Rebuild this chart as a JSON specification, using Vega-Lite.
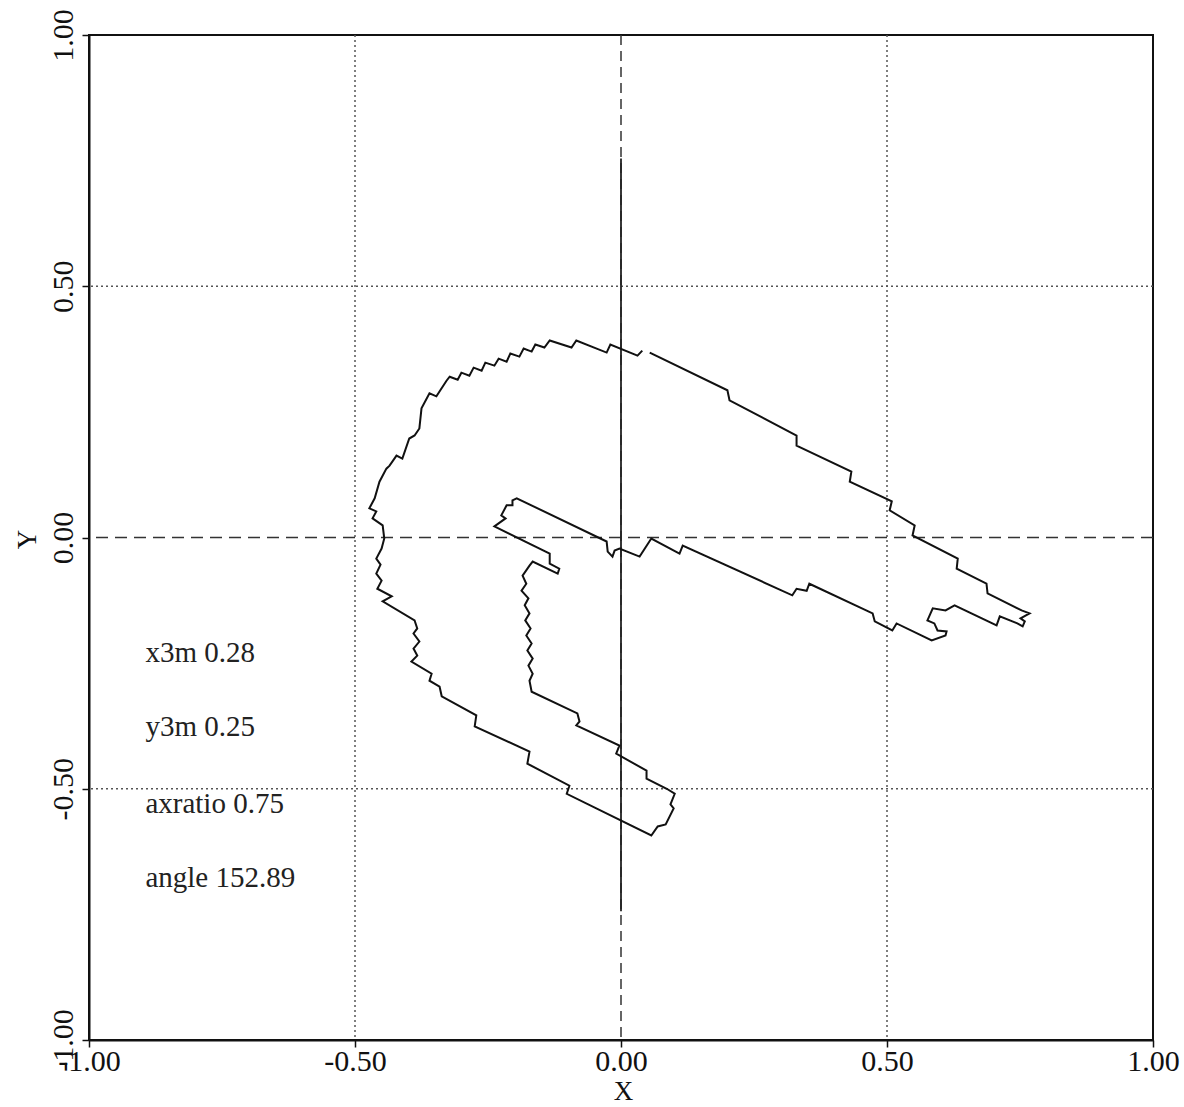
{
"$schema": "https://vega.github.io/schema/vega-lite/v6.json",
"autosize": {"type": "none"},
"padding": {"left": 89, "top": 35, "right": 31, "bottom": 67},
"width": 1064,
"height": 1005,
"background": "white",
"datasets": {
"curve": [
{"i":1,"x":0.054,"y":0.368},{"i":2,"x":0.200,"y":0.293},{"i":3,"x":0.204,"y":0.273},{"i":4,"x":0.330,"y":0.203},{"i":5,"x":0.330,"y":0.183},
{"i":6,"x":0.433,"y":0.131},{"i":7,"x":0.430,"y":0.111},{"i":8,"x":0.509,"y":0.072},{"i":9,"x":0.505,"y":0.054},{"i":10,"x":0.552,"y":0.024},
{"i":11,"x":0.548,"y":0.004},{"i":12,"x":0.633,"y":-0.042},{"i":13,"x":0.631,"y":-0.062},{"i":14,"x":0.687,"y":-0.092},{"i":15,"x":0.689,"y":-0.111},
{"i":16,"x":0.753,"y":-0.145},{"i":17,"x":0.768,"y":-0.151},{"i":18,"x":0.751,"y":-0.161},{"i":19,"x":0.759,"y":-0.167},{"i":20,"x":0.755,"y":-0.177},
{"i":21,"x":0.745,"y":-0.171},{"i":22,"x":0.712,"y":-0.157},{"i":23,"x":0.706,"y":-0.175},{"i":24,"x":0.627,"y":-0.135},{"i":25,"x":0.610,"y":-0.145},
{"i":26,"x":0.586,"y":-0.141},{"i":27,"x":0.576,"y":-0.165},{"i":28,"x":0.589,"y":-0.171},{"i":29,"x":0.595,"y":-0.185},{"i":30,"x":0.612,"y":-0.187},
{"i":31,"x":0.610,"y":-0.195},{"i":32,"x":0.584,"y":-0.205},{"i":33,"x":0.518,"y":-0.171},{"i":34,"x":0.510,"y":-0.185},{"i":35,"x":0.477,"y":-0.167},
{"i":36,"x":0.473,"y":-0.151},{"i":37,"x":0.354,"y":-0.092},{"i":38,"x":0.349,"y":-0.106},{"i":39,"x":0.330,"y":-0.102},{"i":40,"x":0.322,"y":-0.115},
{"i":41,"x":0.116,"y":-0.016},{"i":42,"x":0.110,"y":-0.032},{"i":43,"x":0.057,"y":-0.002},{"i":44,"x":0.035,"y":-0.038},{"i":45,"x":-0.003,"y":-0.022},
{"i":46,"x":-0.012,"y":-0.026},{"i":47,"x":-0.016,"y":-0.038},{"i":48,"x":-0.025,"y":-0.028},{"i":49,"x":-0.027,"y":-0.008},{"i":50,"x":-0.196,"y":0.078},
{"i":51,"x":-0.204,"y":0.074},{"i":52,"x":-0.204,"y":0.064},{"i":53,"x":-0.215,"y":0.064},{"i":54,"x":-0.225,"y":0.044},{"i":55,"x":-0.217,"y":0.038},
{"i":56,"x":-0.238,"y":0.022},{"i":57,"x":-0.134,"y":-0.032},{"i":58,"x":-0.134,"y":-0.052},{"i":59,"x":-0.116,"y":-0.062},{"i":60,"x":-0.119,"y":-0.072},
{"i":61,"x":-0.166,"y":-0.048},{"i":62,"x":-0.172,"y":-0.056},{"i":63,"x":-0.185,"y":-0.076},{"i":64,"x":-0.178,"y":-0.092},{"i":65,"x":-0.187,"y":-0.106},
{"i":66,"x":-0.174,"y":-0.121},{"i":67,"x":-0.181,"y":-0.135},{"i":68,"x":-0.172,"y":-0.151},{"i":69,"x":-0.180,"y":-0.165},{"i":70,"x":-0.170,"y":-0.181},
{"i":71,"x":-0.178,"y":-0.195},{"i":72,"x":-0.168,"y":-0.211},{"i":73,"x":-0.176,"y":-0.225},{"i":74,"x":-0.166,"y":-0.241},{"i":75,"x":-0.174,"y":-0.255},
{"i":76,"x":-0.166,"y":-0.271},{"i":77,"x":-0.172,"y":-0.285},{"i":78,"x":-0.168,"y":-0.307},{"i":79,"x":-0.082,"y":-0.350},{"i":80,"x":-0.078,"y":-0.366},
{"i":81,"x":-0.084,"y":-0.374},{"i":82,"x":-0.003,"y":-0.414},{"i":83,"x":-0.009,"y":-0.430},{"i":84,"x":0.048,"y":-0.464},{"i":85,"x":0.048,"y":-0.480},
{"i":86,"x":0.086,"y":-0.500},{"i":87,"x":0.101,"y":-0.510},{"i":88,"x":0.093,"y":-0.531},{"i":89,"x":0.099,"y":-0.539},{"i":90,"x":0.084,"y":-0.571},
{"i":91,"x":0.069,"y":-0.575},{"i":92,"x":0.057,"y":-0.593},{"i":93,"x":-0.102,"y":-0.510},{"i":94,"x":-0.097,"y":-0.494},{"i":95,"x":-0.176,"y":-0.450},
{"i":96,"x":-0.172,"y":-0.426},{"i":97,"x":-0.275,"y":-0.376},{"i":98,"x":-0.272,"y":-0.354},{"i":99,"x":-0.337,"y":-0.316},{"i":100,"x":-0.341,"y":-0.297},
{"i":101,"x":-0.360,"y":-0.285},{"i":102,"x":-0.356,"y":-0.271},{"i":103,"x":-0.394,"y":-0.247},{"i":104,"x":-0.383,"y":-0.235},{"i":105,"x":-0.390,"y":-0.221},
{"i":106,"x":-0.379,"y":-0.207},{"i":107,"x":-0.390,"y":-0.191},{"i":108,"x":-0.383,"y":-0.181},{"i":109,"x":-0.388,"y":-0.165},{"i":110,"x":-0.448,"y":-0.127},
{"i":111,"x":-0.431,"y":-0.117},{"i":112,"x":-0.458,"y":-0.102},{"i":113,"x":-0.450,"y":-0.086},{"i":114,"x":-0.460,"y":-0.072},{"i":115,"x":-0.452,"y":-0.054},
{"i":116,"x":-0.460,"y":-0.042},{"i":117,"x":-0.450,"y":-0.022},{"i":118,"x":-0.445,"y":-0.002},{"i":119,"x":-0.448,"y":0.024},{"i":120,"x":-0.467,"y":0.038},
{"i":121,"x":-0.460,"y":0.052},{"i":122,"x":-0.473,"y":0.058},{"i":123,"x":-0.463,"y":0.078},{"i":124,"x":-0.454,"y":0.111},{"i":125,"x":-0.441,"y":0.137},
{"i":126,"x":-0.435,"y":0.143},{"i":127,"x":-0.422,"y":0.163},{"i":128,"x":-0.411,"y":0.157},{"i":129,"x":-0.398,"y":0.197},{"i":130,"x":-0.388,"y":0.203},
{"i":131,"x":-0.379,"y":0.217},{"i":132,"x":-0.375,"y":0.257},{"i":133,"x":-0.360,"y":0.287},{"i":134,"x":-0.347,"y":0.281},{"i":135,"x":-0.328,"y":0.312},
{"i":136,"x":-0.322,"y":0.320},{"i":137,"x":-0.307,"y":0.314},{"i":138,"x":-0.300,"y":0.328},{"i":139,"x":-0.285,"y":0.322},{"i":140,"x":-0.277,"y":0.338},
{"i":141,"x":-0.262,"y":0.332},{"i":142,"x":-0.255,"y":0.348},{"i":143,"x":-0.238,"y":0.342},{"i":144,"x":-0.230,"y":0.356},{"i":145,"x":-0.215,"y":0.350},
{"i":146,"x":-0.208,"y":0.366},{"i":147,"x":-0.191,"y":0.360},{"i":148,"x":-0.183,"y":0.376},{"i":149,"x":-0.168,"y":0.370},{"i":150,"x":-0.161,"y":0.384},
{"i":151,"x":-0.144,"y":0.378},{"i":152,"x":-0.134,"y":0.392},{"i":153,"x":-0.093,"y":0.378},{"i":154,"x":-0.084,"y":0.392},{"i":155,"x":-0.027,"y":0.368},
{"i":156,"x":-0.020,"y":0.384},{"i":157,"x":0.031,"y":0.362},{"i":158,"x":0.040,"y":0.372}
],
"vgrid": [{"x":-0.5},{"x":0.5}],
"hgrid": [{"y":-0.5},{"y":0.5}],
"zero": [{"x":0,"y":0}],
"seg": [{"x":0,"y":0.754,"y2":-0.744}],
"notes": [
{"x":-0.894,"y":-0.247,"t":"x3m 0.28"},
{"x":-0.894,"y":-0.396,"t":"y3m 0.25"},
{"x":-0.894,"y":-0.549,"t":"axratio 0.75"},
{"x":-0.894,"y":-0.695,"t":"angle 152.89"}
]
},
"layer": [
{
"data": {"name": "vgrid"},
"mark": {"type": "rule", "color": "#555", "strokeWidth": 1.5, "strokeDash": [2, 3]},
"encoding": {
"x": {"field": "x", "type": "quantitative", "title": "X",
"scale": {"domain": [-1, 1], "nice": false, "zero": false},
"axis": {"values": [-1, -0.5, 0, 0.5, 1], "labelExpr": "(datum.value < 0 ? '-' : '') + format(abs(datum.value), '.2f')"}}
}
},
{
"data": {"name": "hgrid"},
"mark": {"type": "rule", "color": "#555", "strokeWidth": 1.5, "strokeDash": [2, 3]},
"encoding": {
"y": {"field": "y", "type": "quantitative", "title": "Y",
"scale": {"domain": [-1, 1], "nice": false, "zero": false},
"axis": {"values": [-1, -0.5, 0, 0.5, 1], "labelExpr": "(datum.value < 0 ? '-' : '') + format(abs(datum.value), '.2f')"}}
}
},
{
"data": {"name": "zero"},
"mark": {"type": "rule", "color": "#333", "strokeWidth": 1.5, "strokeDash": [12, 7]},
"encoding": {"y": {"field": "y", "type": "quantitative", "title": "Y"}}
},
{
"data": {"name": "zero"},
"mark": {"type": "rule", "color": "#333", "strokeWidth": 1.5, "strokeDash": [10, 6]},
"encoding": {"x": {"field": "x", "type": "quantitative", "title": "X"}}
},
{
"data": {"name": "seg"},
"mark": {"type": "rule", "color": "#222", "strokeWidth": 1.8},
"encoding": {
"x": {"field": "x", "type": "quantitative", "title": "X"},
"y": {"field": "y", "type": "quantitative", "title": "Y"},
"y2": {"field": "y2"}
}
},
{
"data": {"name": "curve"},
"mark": {"type": "line", "color": "#111", "strokeWidth": 2, "strokeJoin": "miter"},
"encoding": {
"x": {"field": "x", "type": "quantitative", "title": "X"},
"y": {"field": "y", "type": "quantitative", "title": "Y"},
"order": {"field": "i", "type": "quantitative"}
}
},
{
"data": {"name": "notes"},
"mark": {"type": "text", "align": "left", "baseline": "alphabetic", "font": "Liberation Serif", "fontSize": 29, "color": "#222"},
"encoding": {
"x": {"field": "x", "type": "quantitative", "title": "X"},
"y": {"field": "y", "type": "quantitative", "title": "Y"},
"text": {"field": "t"}
}
}
],
"config": {
"view": {"stroke": "#111", "strokeWidth": 2},
"axis": {"grid": false, "domainColor": "#111", "domainWidth": 2, "tickColor": "#111", "tickWidth": 1.5, "tickSize": 7,
"labelFont": "Liberation Serif", "labelFontSize": 30, "labelColor": "#111", "labelOverlap": false, "labelFlush": false, "labelBound": false,
"titleFont": "Liberation Serif", "titleFontSize": 27, "titleFontWeight": "normal", "titleColor": "#111"},
"axisX": {"labelPadding": 23, "labelAngle": 0, "labelBaseline": "alphabetic", "titleX": 534, "titleY": 59, "titleAlign": "center", "titleBaseline": "alphabetic", "titleAngle": 0},
"axisY": {"labelAngle": 270, "labelAlign": "center", "labelBaseline": "alphabetic", "labelPadding": 10, "titleAngle": 270, "titleX": -62, "titleY": 504, "titleAlign": "center", "titleBaseline": "middle"}
}
}
